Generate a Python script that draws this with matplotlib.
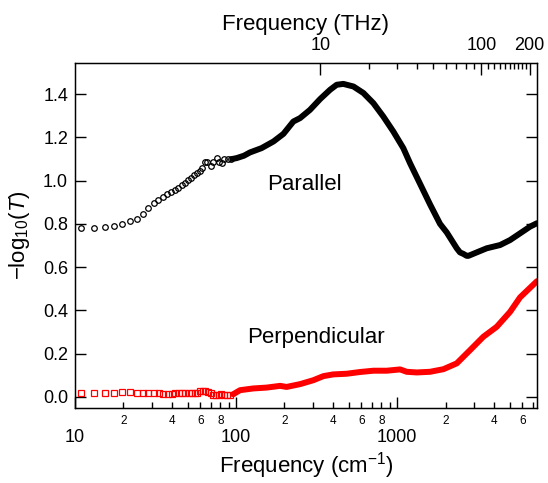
import matplotlib
matplotlib.use("Agg")
from matplotlib import pyplot as plt
from matplotlib.ticker import FixedLocator, FuncFormatter, NullFormatter, NullLocator

plt.rcParams["font.family"] = ["Liberation Sans", "DejaVu Sans"]
plt.rcParams["mathtext.fontset"] = "custom"
plt.rcParams["mathtext.rm"] = "Liberation Sans"
plt.rcParams["mathtext.it"] = "Liberation Sans:italic"

CM_PER_THZ = 33.356

# parallel, sparse low-frequency points (cm^-1, -log10 T)
par_freq = [10.9, 13.1, 15.3, 17.5, 19.7, 21.9, 24.2, 26.3, 28.5, 30.8, 33.0, 35.1,
            37.4, 39.6, 41.7, 43.8, 46.2, 48.4, 50.5, 52.8, 55.1, 57.3, 59.5, 61.9,
            64.0, 66.1, 70.0, 72.2, 75.8, 78.9, 82.0, 84.6, 89.0, 92.7]
par_val = [0.780, 0.780, 0.787, 0.789, 0.798, 0.812, 0.824, 0.847, 0.872, 0.898, 0.909, 0.926,
           0.938, 0.948, 0.957, 0.966, 0.978, 0.991, 1.002, 1.014, 1.025, 1.036, 1.046, 1.058,
           1.087, 1.084, 1.068, 1.088, 1.103, 1.087, 1.080, 1.099, 1.099, 1.099]

# parallel, dense part
par_dense_freq = [95, 101, 112, 122, 144, 171, 197, 227, 250, 288, 333, 384, 422, 464,
                  536, 618, 713, 822, 948, 1094, 1205, 1390, 1603, 1849, 2037, 2349,
                  2460, 2583, 2709, 2775, 3126, 3606, 4365, 5034, 5807, 6699, 7400]
par_dense_val = [1.100, 1.104, 1.115, 1.130, 1.150, 1.181, 1.216, 1.273, 1.289, 1.327, 1.377,
                 1.420, 1.443, 1.447, 1.435, 1.405, 1.358, 1.296, 1.227, 1.150, 1.080, 0.985,
                 0.890, 0.800, 0.760, 0.687, 0.668, 0.661, 0.652, 0.652, 0.668, 0.687, 0.702,
                 0.725, 0.756, 0.787, 0.803]

# perpendicular, sparse low-frequency points
perp_freq = [10.9, 13.1, 15.3, 17.5, 19.7, 21.9, 24.2, 26.3, 28.5, 30.9, 33.1, 35.3,
             37.6, 39.9, 42.0, 44.1, 46.2, 48.4, 50.8, 53.1, 55.4, 57.5, 59.7, 62.1,
             64.4, 67.0, 69.6, 72.2, 75.1, 78.1, 81.1, 84.2, 87.5, 91.8]
perp_val = [0.019, 0.019, 0.020, 0.020, 0.022, 0.022, 0.020, 0.020, 0.019, 0.017, 0.016, 0.014,
            0.014, 0.014, 0.016, 0.016, 0.017, 0.017, 0.019, 0.017, 0.019, 0.020, 0.025, 0.026,
            0.025, 0.022, 0.016, 0.011, 0.008, 0.009, 0.012, 0.011, 0.011, 0.011]

# perpendicular, dense part
perp_dense_freq = [96, 101, 106, 128, 155, 188, 206, 250, 302, 349, 402, 487, 589, 713,
                   863, 1045, 1149, 1325, 1603, 1941, 2349, 2840, 3436, 4159, 5034, 5807, 7400]
perp_dense_val = [0.012, 0.022, 0.031, 0.039, 0.043, 0.051, 0.046, 0.059, 0.077, 0.096,
                  0.104, 0.107, 0.115, 0.121, 0.121, 0.127, 0.116, 0.113, 0.116, 0.128,
                  0.155, 0.216, 0.278, 0.324, 0.393, 0.460, 0.535]

fig = plt.figure(figsize=(5.48, 4.83), dpi=100)
ax = fig.add_axes([75 / 548, 1 - 407.7 / 483, 462 / 548, 345 / 483])

ax.plot(par_dense_freq, par_dense_val, color="black", lw=4.3,
        solid_capstyle="round", solid_joinstyle="round")
ax.plot(par_freq, par_val, "o", mfc="none", mec="black", ms=4, mew=0.9)
ax.plot(perp_dense_freq, perp_dense_val, color="red", lw=4.3,
        solid_capstyle="round", solid_joinstyle="round")
ax.plot(perp_freq, perp_val, "s", mfc="none", mec="red", ms=4, mew=0.9)

ax.set_xscale("log")
ax.set_xlim(10, 7400)
ax.set_ylim(-0.05, 1.545)

# bottom axis: big decade labels, small 2/4/6/8 labels
minor_pos = [m * 10 ** e for e in (1, 2, 3) for m in range(2, 10) if m * 10 ** e < 7400]
ax.xaxis.set_major_locator(FixedLocator([10, 100, 1000]))
ax.xaxis.set_major_formatter(FuncFormatter(lambda v, p: f"{v:g}"))
ax.xaxis.set_minor_locator(FixedLocator(minor_pos))
ax.xaxis.set_minor_formatter(FuncFormatter(
    lambda v, p: str(int(round(v))).rstrip("0") if str(int(round(v)))[0] in "2468" else ""))
ax.tick_params(axis="x", which="major", direction="in", length=8, width=1,
               labelsize=13, pad=15, top=False)
ax.tick_params(axis="x", which="minor", direction="in", length=4.5, width=1,
               labelsize=8.5, pad=5, top=False)

ax.yaxis.set_major_locator(FixedLocator([0.0, 0.2, 0.4, 0.6, 0.8, 1.0, 1.2, 1.4]))
ax.yaxis.set_major_formatter(FuncFormatter(lambda v, p: f"{v:.1f}"))
ax.yaxis.set_minor_locator(NullLocator())
ax.tick_params(axis="y", direction="in", length=8, width=1, labelsize=13,
               right=True, pad=5)

for s in ax.spines.values():
    s.set_linewidth(1)

# top axis in THz
ax2 = ax.twiny()
ax2.set_xscale("log")
ax2.set_xlim(10 / CM_PER_THZ, 7400 / CM_PER_THZ)
ax2.xaxis.set_major_locator(FixedLocator([10, 100, 200]))
ax2.xaxis.set_major_formatter(FuncFormatter(lambda v, p: f"{v:g}"))
ax2.xaxis.set_minor_locator(FixedLocator([20, 30, 40, 50, 60, 70, 80, 90,
                                          110, 120, 130, 140, 150, 160, 170, 180, 190]))
ax2.xaxis.set_minor_formatter(NullFormatter())
ax2.tick_params(axis="x", which="major", direction="in", length=8.5, width=1,
                labelsize=13, pad=6)
ax2.tick_params(axis="x", which="minor", direction="in", length=4, width=1)
ax2.set_xlabel("Frequency (THz)", fontsize=16, labelpad=5)

ax.set_xlabel("Frequency (cm$^{-1}$)", fontsize=16, labelpad=3)
ax.set_ylabel("\u2212log$_{10}$($T$)", fontsize=16, labelpad=8)

ax.text(155, 0.957, "Parallel", fontsize=16, ha="left", va="baseline")
ax.text(117.5, 0.25, "Perpendicular", fontsize=16, ha="left", va="baseline")

fig.savefig("out.png", dpi=100)
